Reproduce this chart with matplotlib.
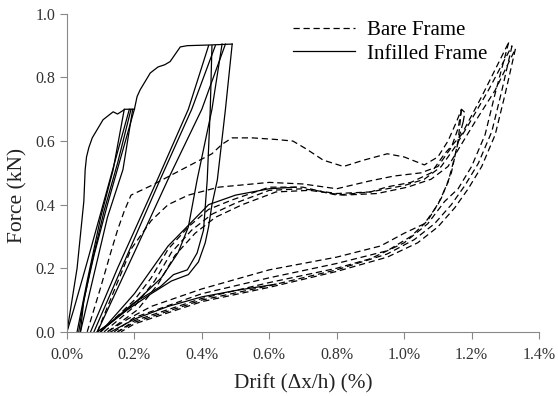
import matplotlib
matplotlib.use("Agg")
import matplotlib.pyplot as plt

plt.rcParams['font.family'] = ['Liberation Serif', 'DejaVu Serif']

# ---------------- data (drift %, force kN) ----------------
# Bare frame (dashed) branches
bare_virgin_x = [0.06, 0.10, 0.13, 0.15, 0.17, 0.19, 0.25, 0.34, 0.43, 0.46, 0.49, 0.55, 0.62, 0.67, 0.71,
                 0.76, 0.82, 0.88, 0.95, 1.00, 1.06, 1.10, 1.13, 1.155, 1.17, 1.18, 1.175]
bare_virgin_y = [0.00, 0.14, 0.25, 0.32, 0.38, 0.43, 0.46, 0.51, 0.56, 0.59, 0.61, 0.61, 0.605, 0.60, 0.575,
                 0.54, 0.52, 0.54, 0.56, 0.55, 0.525, 0.55, 0.60, 0.66, 0.70, 0.69, 0.66]

bare_unload1_x = [1.175, 1.165, 1.15, 1.13, 1.10, 1.06, 1.00, 0.93, 0.80, 0.60, 0.40, 0.25, 0.18, 0.12]
bare_unload1_y = [0.66, 0.62, 0.55, 0.47, 0.40, 0.34, 0.31, 0.27, 0.235, 0.195, 0.135, 0.08, 0.04, 0.00]

bare_reload1_x = [0.09, 0.14, 0.19, 0.25, 0.30, 0.36, 0.45, 0.60, 0.70, 0.80, 0.90, 0.97, 1.05, 1.10, 1.14, 1.16, 1.17]
bare_reload1_y = [0.00, 0.13, 0.26, 0.35, 0.40, 0.43, 0.455, 0.47, 0.465, 0.45, 0.475, 0.49, 0.50, 0.52, 0.58, 0.64, 0.70]

bare_unload2_x = [1.17, 1.16, 1.14, 1.11, 1.07, 1.02, 0.95, 0.80, 0.60, 0.40, 0.20, 0.14]
bare_unload2_y = [0.70, 0.60, 0.50, 0.42, 0.35, 0.30, 0.255, 0.215, 0.17, 0.12, 0.045, 0.00]

bare_reload2_x = [0.10, 0.20, 0.25, 0.30, 0.36, 0.42, 0.49, 0.60, 0.70, 0.80, 0.90, 0.95, 1.02, 1.08, 1.12, 1.17, 1.23, 1.31]
bare_reload2_y = [0.00, 0.10, 0.17, 0.26, 0.33, 0.385, 0.415, 0.455, 0.455, 0.43, 0.44, 0.456, 0.47, 0.50, 0.56, 0.62, 0.74, 0.91]

bare_unload3_x = [1.31, 1.27, 1.24, 1.20, 1.16, 1.12, 1.07, 1.00, 0.90, 0.80, 0.60, 0.40, 0.20, 0.15]
bare_unload3_y = [0.91, 0.75, 0.62, 0.52, 0.45, 0.41, 0.34, 0.28, 0.23, 0.20, 0.155, 0.105, 0.035, 0.00]

bare_reload3_x = [0.11, 0.20, 0.26, 0.31, 0.37, 0.43, 0.50, 0.60, 0.70, 0.80, 0.90, 1.00, 1.06, 1.11, 1.15, 1.19, 1.25, 1.32]
bare_reload3_y = [0.00, 0.08, 0.16, 0.25, 0.32, 0.37, 0.405, 0.445, 0.45, 0.435, 0.44, 0.46, 0.48, 0.52, 0.58, 0.65, 0.76, 0.90]

bare_unload4_x = [1.32, 1.29, 1.26, 1.22, 1.18, 1.14, 1.09, 1.03, 0.95, 0.80, 0.60, 0.40, 0.20, 0.15]
bare_unload4_y = [0.90, 0.76, 0.63, 0.53, 0.46, 0.40, 0.34, 0.29, 0.245, 0.195, 0.145, 0.10, 0.03, 0.00]

bare_reload4_x = [0.12, 0.21, 0.27, 0.32, 0.38, 0.44, 0.52, 0.62, 0.72, 0.82, 0.92, 1.01, 1.08, 1.13, 1.17, 1.21, 1.27, 1.33]
bare_reload4_y = [0.00, 0.07, 0.15, 0.24, 0.31, 0.36, 0.40, 0.44, 0.445, 0.43, 0.435, 0.455, 0.48, 0.52, 0.59, 0.66, 0.76, 0.89]

bare_unload5_x = [1.33, 1.30, 1.27, 1.23, 1.19, 1.15, 1.10, 1.04, 0.95, 0.80, 0.60, 0.40, 0.20, 0.16]
bare_unload5_y = [0.89, 0.75, 0.62, 0.52, 0.45, 0.39, 0.33, 0.28, 0.235, 0.19, 0.14, 0.095, 0.025, 0.00]

# Infilled frame (solid) branches
inf_virgin1_x = [0.00, 0.03, 0.05, 0.054, 0.058, 0.065, 0.075, 0.089, 0.107, 0.137, 0.15, 0.172, 0.20]
inf_virgin1_y = [0.00, 0.20, 0.41, 0.51, 0.55, 0.58, 0.61, 0.635, 0.667, 0.692, 0.685, 0.70, 0.70]

inf_cyc1_unload1_x = [0.20, 0.16, 0.12, 0.08, 0.05, 0.04]
inf_cyc1_unload1_y = [0.70, 0.55, 0.40, 0.24, 0.10, 0.00]
inf_cyc1_reload1_x = [0.03, 0.06, 0.10, 0.137, 0.17]
inf_cyc1_reload1_y = [0.00, 0.16, 0.36, 0.51, 0.70]
inf_cyc1_unload2_x = [0.19, 0.15, 0.11, 0.07, 0.045, 0.035]
inf_cyc1_unload2_y = [0.70, 0.53, 0.38, 0.20, 0.07, 0.00]
inf_cyc1_reload2_x = [0.04, 0.08, 0.12, 0.166, 0.195]
inf_cyc1_reload2_y = [0.00, 0.18, 0.36, 0.51, 0.70]
inf_cyc1_unload3_x = [0.185, 0.12, 0.06, 0.02, 0.00]
inf_cyc1_unload3_y = [0.70, 0.45, 0.22, 0.07, 0.00]

inf_virgin2_x = [0.20, 0.208, 0.217, 0.247, 0.27, 0.29, 0.306, 0.336, 0.357, 0.42, 0.49]
inf_virgin2_y = [0.70, 0.74, 0.761, 0.814, 0.833, 0.84, 0.85, 0.896, 0.90, 0.902, 0.905]

inf_cyc2_unload1_x = [0.49, 0.47, 0.446, 0.43, 0.42, 0.41, 0.39, 0.36, 0.31, 0.25, 0.18, 0.12, 0.10]
inf_cyc2_unload1_y = [0.905, 0.70, 0.478, 0.40, 0.33, 0.28, 0.22, 0.18, 0.16, 0.12, 0.07, 0.02, 0.00]
inf_cyc2_reload1_x = [0.07, 0.15, 0.268, 0.36, 0.42]
inf_cyc2_reload1_y = [0.00, 0.20, 0.478, 0.70, 0.90]
inf_cyc2_unload2_x = [0.43, 0.425, 0.416, 0.405, 0.386, 0.357, 0.316, 0.277, 0.197, 0.13, 0.09]
inf_cyc2_unload2_y = [0.90, 0.70, 0.478, 0.32, 0.248, 0.195, 0.18, 0.142, 0.09, 0.03, 0.00]
inf_cyc2_reload2_x = [0.08, 0.17, 0.276, 0.37, 0.44]
inf_cyc2_reload2_y = [0.00, 0.22, 0.478, 0.70, 0.90]
inf_cyc2_unload3_x = [0.46, 0.43, 0.386, 0.36, 0.33, 0.28, 0.20, 0.12, 0.09]
inf_cyc2_unload3_y = [0.905, 0.70, 0.478, 0.33, 0.25, 0.17, 0.09, 0.02, 0.00]
inf_cyc2_reload3_x = [0.09, 0.20, 0.30, 0.40, 0.47]
inf_cyc2_reload3_y = [0.00, 0.25, 0.48, 0.70, 0.905]

inf_cyc3_load_x = [0.10, 0.20, 0.30, 0.42, 0.50, 0.60, 0.68]
inf_cyc3_load_y = [0.00, 0.12, 0.27, 0.40, 0.43, 0.45, 0.455]
inf_cyc3_unload_x = [0.62, 0.50, 0.40, 0.30, 0.20, 0.13]
inf_cyc3_unload_y = [0.15, 0.13, 0.11, 0.08, 0.04, 0.00]

bare_curves = [
    (bare_virgin_x, bare_virgin_y), (bare_unload1_x, bare_unload1_y),
    (bare_reload1_x, bare_reload1_y), (bare_unload2_x, bare_unload2_y),
    (bare_reload2_x, bare_reload2_y), (bare_unload3_x, bare_unload3_y),
    (bare_reload3_x, bare_reload3_y), (bare_unload4_x, bare_unload4_y),
    (bare_reload4_x, bare_reload4_y), (bare_unload5_x, bare_unload5_y),
]
infilled_curves = [
    (inf_virgin1_x, inf_virgin1_y),
    (inf_cyc1_unload1_x, inf_cyc1_unload1_y), (inf_cyc1_reload1_x, inf_cyc1_reload1_y),
    (inf_cyc1_unload2_x, inf_cyc1_unload2_y), (inf_cyc1_reload2_x, inf_cyc1_reload2_y),
    (inf_cyc1_unload3_x, inf_cyc1_unload3_y),
    (inf_virgin2_x, inf_virgin2_y),
    (inf_cyc2_unload1_x, inf_cyc2_unload1_y), (inf_cyc2_reload1_x, inf_cyc2_reload1_y),
    (inf_cyc2_unload2_x, inf_cyc2_unload2_y), (inf_cyc2_reload2_x, inf_cyc2_reload2_y),
    (inf_cyc2_unload3_x, inf_cyc2_unload3_y), (inf_cyc2_reload3_x, inf_cyc2_reload3_y),
    (inf_cyc3_load_x, inf_cyc3_load_y), (inf_cyc3_unload_x, inf_cyc3_unload_y),
]

x_ticks = [0.0, 0.2, 0.4, 0.6, 0.8, 1.0, 1.2, 1.4]
x_tick_labels = ["0.0%", "0.2%", "0.4%", "0.6%", "0.8%", "1.0%", "1.2%", "1.4%"]
y_ticks = [0.0, 0.2, 0.4, 0.6, 0.8, 1.0]
y_tick_labels = ["0.0", "0.2", "0.4", "0.6", "0.8", "1.0"]

# ---------------- plot ----------------
fig = plt.figure(figsize=(5.58, 3.96), dpi=100)
ax = fig.add_axes([0.120, 0.162, 0.846, 0.803])

lw = 0.9
for i, (xs, ys) in enumerate(bare_curves):
    ax.plot(xs, ys, color='black', lw=lw, linestyle=(0, (5, 3)),
            label='Bare Frame' if i == 0 else None)
for i, (xs, ys) in enumerate(infilled_curves):
    ax.plot(xs, ys, color='black', lw=lw, linestyle='-',
            label='Infilled Frame' if i == 0 else None)

ax.set_xlim(0, 1.4)
ax.set_ylim(0, 1.0)
ax.set_xticks(x_ticks)
ax.set_xticklabels(x_tick_labels)
ax.set_yticks(y_ticks)
ax.set_yticklabels(y_tick_labels)
ax.tick_params(axis='both', labelsize=11.5, direction='out', length=5, width=0.8,
               color='#888888', labelcolor='#333333')
ax.tick_params(axis='x', pad=6)
for s in ['top', 'right']:
    ax.spines[s].set_visible(False)
for s in ['left', 'bottom']:
    ax.spines[s].set_color('#888888')
    ax.spines[s].set_linewidth(0.8)

ax.set_xlabel('Drift (\u0394x/h) (%)', fontsize=15.3, color='#222222', labelpad=8)
ax.set_ylabel('Force (kN)', fontsize=15.5, color='#222222')
ax.yaxis.set_label_coords(-0.083, 0.43)

leg = ax.legend(loc='upper left', bbox_to_anchor=(0.447, 1.024), frameon=False,
                fontsize=15, handlelength=3.0, handletextpad=0.55,
                labelspacing=0.18, borderaxespad=0.3)

fig.savefig('out.png', dpi=100)
